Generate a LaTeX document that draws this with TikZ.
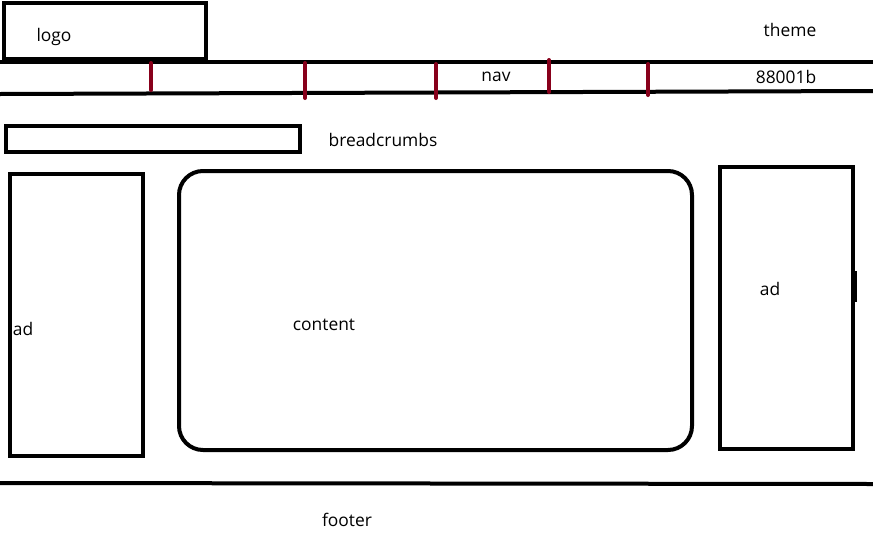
\documentclass[tikz,border=0pt]{standalone}
\usepackage{fontspec}
\setmainfont{Open Sans}
\definecolor{navred}{HTML}{88001B}
\begin{document}
\begin{tikzpicture}[x=1pt,y=-1pt,
  frame/.style={draw=black,line width=4pt},
  tick/.style={draw=navred,line width=4pt,line cap=round},
  lbl/.style={font=\fontsize{17.4}{19}\selectfont,inner sep=0pt,anchor=center}]
\useasboundingbox[fill=white] (0,0) rectangle (873,544);
% logo
\draw[frame] (4,3) rectangle (206,59);
\node[lbl] (logo) at (54,37) {logo};
% nav bar
\draw[frame] (0,62) -- (873,62);
\draw[frame] (0,94) -- (873,91);
\foreach \x/\a/\b in {151/63/90,305/63/98,436/64/98,549/60/92,648/64/95}
  \draw[tick] (\x,\a) -- (\x,\b);
\node[lbl] (nav) at (496,77) {nav};
\node[lbl] (theme) at (790,30) {theme};
\node[lbl] (hex) at (786,77) {88001b};
% breadcrumbs
\draw[frame] (6,126) rectangle (300,152);
\node[lbl] (bc) at (383,140) {breadcrumbs};
% left ad
\draw[frame] (10,174) rectangle (143,456);
\node[lbl] (adl) at (23,329) {ad};
% content
\draw[frame,rounded corners=24pt] (179,171) rectangle (692,450);
\node[lbl] (content) at (324,325) {content};
% right ad
\draw[frame] (720,167) rectangle (853,449);
\draw[line width=3pt] (855,271) -- (855,302);
\node[lbl] (adr) at (770,289) {ad};
% footer
\draw[frame] (0,483) -- (873,484);
\node[lbl] (footer) at (347,520) {footer};
\end{tikzpicture}
\end{document}
